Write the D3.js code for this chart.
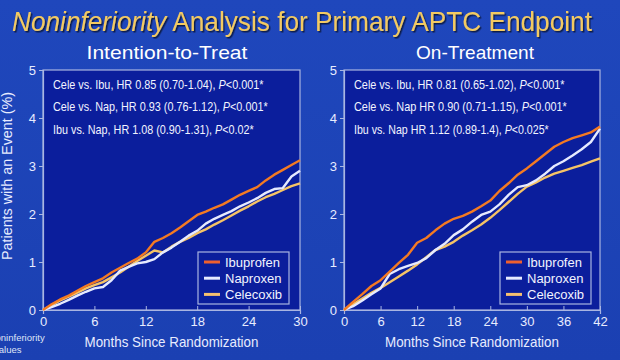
<!DOCTYPE html>
<html><head><meta charset="utf-8">
<script src="https://cdn.jsdelivr.net/npm/d3@7"></script>
<style>html,body{margin:0;padding:0;background:#1d44b8;}svg{display:block;font-family:"Liberation Sans",Arial,sans-serif;}</style>
</head><body><svg id="c" width="620" height="360"></svg>
<script>
// ---------- data ----------
const ittMonths = d3.range(0, 31, 1);
const ittIbuprofen = [0,0.12,0.22,0.30,0.40,0.50,0.58,0.66,0.78,0.88,0.98,1.07,1.20,1.42,1.50,1.60,1.72,1.85,1.98,2.05,2.13,2.20,2.30,2.40,2.48,2.56,2.70,2.82,2.92,3.02,3.12];
const ittNaproxen  = [0,0.06,0.13,0.21,0.30,0.38,0.45,0.48,0.62,0.82,0.90,0.97,1.00,1.06,1.20,1.30,1.42,1.55,1.65,1.80,1.90,1.98,2.06,2.16,2.24,2.33,2.44,2.52,2.54,2.78,2.90];
const ittCelecoxib = [0,0.10,0.20,0.28,0.36,0.45,0.52,0.58,0.68,0.78,0.90,1.02,1.13,1.24,1.20,1.32,1.42,1.50,1.60,1.68,1.78,1.87,1.97,2.07,2.16,2.26,2.35,2.42,2.50,2.58,2.64];
const otMonths = [0,1.5,3,4.5,6,7.5,9,10.5,12,13.5,15,16.5,18,19.5,21,22.5,24,25.5,27,28.5,30,31.5,33,34.5,36,37.5,39,40.5,42];
const otIbuprofen = [0,0.17,0.33,0.50,0.62,0.80,0.98,1.15,1.40,1.50,1.66,1.80,1.90,1.96,2.05,2.16,2.28,2.48,2.64,2.82,2.95,3.10,3.25,3.40,3.50,3.58,3.64,3.70,3.82];
const otNaproxen  = [0,0.08,0.20,0.33,0.45,0.75,0.85,0.92,0.98,1.08,1.25,1.38,1.56,1.68,1.84,1.98,2.05,2.20,2.40,2.56,2.60,2.70,2.84,3.00,3.10,3.22,3.35,3.50,3.78];
const otCelecoxib = [0,0.12,0.24,0.36,0.46,0.58,0.70,0.82,0.95,1.10,1.25,1.32,1.42,1.55,1.66,1.78,1.92,2.08,2.25,2.42,2.57,2.66,2.76,2.84,2.90,2.96,3.02,3.09,3.16];
const seriesNames = ["Ibuprofen","Naproxen","Celecoxib"];
const yTicks = [0,1,2,3,4,5];
const ittXTicks = [0,6,12,18,24,30];
const otXTicks = [0,6,12,18,24,30,36,42];
const ittNotes = [["Cele vs. Ibu, HR 0.85 (0.70-1.04), ","P","<0.001*"],["Cele vs. Nap, HR 0.93 (0.76-1.12), ","P","<0.001*"],["Ibu vs. Nap, HR 1.08 (0.90-1.31), ","P","<0.02*"]];
const otNotes = [["Cele vs. Ibu, HR 0.81 (0.65-1.02), ","P","<0.001*"],["Cele vs. Nap HR 0.90 (0.71-1.15), ","P","<0.001*"],["Ibu vs. Nap HR 1.12 (0.89-1.4), ","P","<0.025*"]];

const lineColors = ["#f47a22","#e6eaff","#f6c466"];
const legendColors = ["#f0602e","#e6eaff","#f6c070"];

const svg = d3.select("#c");
const defs = svg.append("defs");
const g = defs.append("linearGradient").attr("id","bg").attr("x1",0).attr("y1",0).attr("x2",0).attr("y2",1);
g.append("stop").attr("offset","0%").attr("stop-color","#1f47bc");
g.append("stop").attr("offset","100%").attr("stop-color","#1b40b2");
svg.append("rect").attr("width",620).attr("height",360).attr("fill","url(#bg)");
const sh = defs.append("filter").attr("id","sh").attr("x","-5%").attr("y","-20%").attr("width","110%").attr("height","140%");
sh.append("feDropShadow").attr("dx",1.5).attr("dy",1.5).attr("stdDeviation",0.6).attr("flood-color","#000").attr("flood-opacity",0.6);

// horizontally squeeze a text to a target width around its anchor point
function fit(sel, x, y, width){
  const w = sel.node().getComputedTextLength();
  const s = width / w;
  sel.attr("transform", `translate(${x},${y}) scale(${s},1) translate(${-x},${-y})`);
  return sel;
}

// title
const title = svg.append("text").attr("x",12).attr("y",31).attr("font-size",27).attr("fill","#f3ca62")
  .attr("filter","url(#sh)");
title.append("tspan").attr("font-style","italic").text("Noninferiority");
title.append("tspan").text(" Analysis for Primary APTC Endpoint");
fit(title,12,31,580);

// y label
svg.append("text").attr("transform","translate(12,176) rotate(-90)").attr("text-anchor","middle")
  .attr("font-size",14).attr("fill","#e8ecff").attr("textLength",168).attr("lengthAdjust","spacingAndGlyphs")
  .text("Patients with an Event (%)");

// footnote (cut off at left edge, as in the source slide)
svg.append("text").attr("x",-15).attr("y",341).attr("font-size",9.5).attr("fill","#dfe4f6").text("*Noninferiority");
const fn2 = svg.append("text").attr("x",-15).attr("y",353).attr("font-size",9.5).attr("fill","#dfe4f6");
fn2.append("tspan").attr("font-style","italic").text("P");
fn2.append("tspan").text(" values");

function panel(cfg){
  const x = d3.scaleLinear().domain([0,cfg.xmax]).range([cfg.x0,cfg.x1]);
  const y = d3.scaleLinear().domain([0,5]).range([310,70]);
  const cx = (cfg.x0+cfg.x1)/2;
  fit(svg.append("text").attr("x",cfg.subX).attr("y",59).attr("text-anchor","middle")
    .attr("font-size",18).attr("fill","#ffffff").text(cfg.sub), cfg.subX, 59, cfg.subW);
  svg.append("rect").attr("x",cfg.x0).attr("y",70).attr("width",cfg.x1-cfg.x0).attr("height",240)
    .attr("fill","#0b1e9c").attr("stroke","#a9b5e2").attr("stroke-width",1.2);
  const xa = svg.append("g").attr("transform","translate(0,310)")
    .call(d3.axisBottom(x).tickValues(cfg.xticks).tickSize(4).tickPadding(3).tickFormat(d3.format("d")));
  const ya = svg.append("g").attr("transform",`translate(${cfg.x0},0)`)
    .call(d3.axisLeft(y).tickValues(yTicks).tickSize(4).tickPadding(3).tickFormat(d3.format("d")));
  [xa,ya].forEach(a=>{
    a.select(".domain").attr("stroke","#a9b5e2").attr("stroke-width",1.2);
    a.selectAll(".tick line").attr("stroke","#a9b5e2");
    a.selectAll(".tick text").attr("fill","#e8ecff").attr("font-size",13).attr("font-family","Liberation Sans, Arial, sans-serif");
  });
  xa.selectAll(".tick line").attr("y2",-4).attr("y1",0);
  // axis title
  fit(svg.append("text").attr("x",cx).attr("y",347).attr("text-anchor","middle")
    .attr("font-size",15).attr("fill","#e8ecff").text("Months Since Randomization"), cx, 347, 174);
  // notes
  cfg.notes.forEach((n,i)=>{
    const yy = 89+i*22.5;
    const t = svg.append("text").attr("x",cfg.x0+10).attr("y",yy).attr("font-size",12).attr("fill","#f2f4ff");
    t.append("tspan").text(n[0]);
    t.append("tspan").attr("font-style","italic").text(n[1]);
    t.append("tspan").text(n[2]);
    fit(t, cfg.x0+10, yy, cfg.noteW[i]);
  });
  // lines (Celecoxib, Naproxen, then Ibuprofen on top)
  const line = d3.line().x((d,i)=>x(cfg.months[i])).y(d=>y(d)).curve(d3.curveLinear);
  [2,1,0].forEach(k=>{
    svg.append("path").datum(cfg.series[k]).attr("d",line).attr("fill","none")
      .attr("stroke",lineColors[k]).attr("stroke-width",2.4).attr("stroke-linejoin","round");
  });
  // legend
  const lx = cfg.legX, ly = 252;
  svg.append("rect").attr("x",lx).attr("y",ly).attr("width",91).attr("height",52)
    .attr("fill","#0b1e9c").attr("stroke","#a9b5e2").attr("stroke-width",1.2);
  seriesNames.forEach((s,i)=>{
    const yy = ly+10+i*16.2;
    svg.append("line").attr("x1",lx+6).attr("x2",lx+22).attr("y1",yy).attr("y2",yy)
      .attr("stroke",legendColors[i]).attr("stroke-width",3);
    svg.append("text").attr("x",lx+27).attr("y",yy+4.5).attr("font-size",13).attr("fill","#f2f4ff").text(s);
  });
}

panel({x0:43,x1:300,xmax:30,xticks:ittXTicks,sub:"Intention-to-Treat",subX:167,subW:161,months:ittMonths,
  series:[ittIbuprofen,ittNaproxen,ittCelecoxib],notes:ittNotes,noteW:[211,215,201],legX:198});
panel({x0:344,x1:600,xmax:42,xticks:otXTicks,sub:"On-Treatment",subX:475,subW:118,months:otMonths,
  series:[otIbuprofen,otNaproxen,otCelecoxib],notes:otNotes,noteW:[211,213,195],legX:500});
</script></body></html>
